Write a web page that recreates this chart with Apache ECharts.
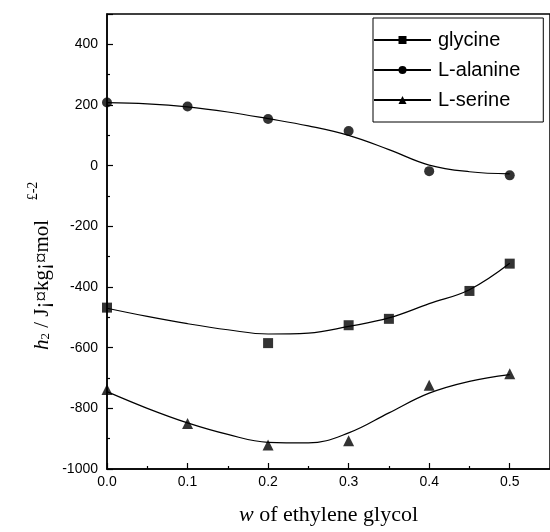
<!DOCTYPE html>
<html>
<head>
<meta charset="utf-8">
<script src="https://cdn.jsdelivr.net/npm/echarts@6/dist/echarts.min.js"></script>
<style>
html, body { margin: 0; padding: 0; background: #fff; }
#chart { width: 550px; height: 532px; }
</style>
</head>
<body>
<div id="chart"></div>
<script>
// measured points
const glycineX = [0, 0.2, 0.3, 0.35, 0.45, 0.5];
const glycineY = [-468, -585, -526, -505, -413, -323];
const alanineX = [0, 0.1, 0.2, 0.3, 0.4, 0.5];
const alanineY = [208, 195, 154, 114, -18, -32];
const serineX = [0, 0.1, 0.2, 0.3, 0.4, 0.5];
const serineY = [-738, -850, -921, -907, -724, -686];

// fitted curves
const fitX = [0, 0.05, 0.1, 0.15, 0.2, 0.25, 0.3, 0.35, 0.4, 0.45, 0.5];
const glycineFit = [-470, -497, -521, -541, -555, -552, -530, -502, -455, -409, -322];
const alanineFit = [208, 204, 194, 177, 155, 131, 100, 53, 2, -20, -27];
const serineFit = [-745, -800, -848, -886, -912, -914, -881, -815, -750, -711, -689];

const names = ['glycine', 'L-alanine', 'L-serine'];

function pairs(xs, ys) {
  return xs.map((x, i) => [x, ys[i]]);
}

const chart = echarts.init(document.getElementById('chart'));

const fitLine = (name, sym, ys) => ({
  name: name,
  type: 'line',
  smooth: 0.4,
  symbol: sym,
  showSymbol: false,
  data: pairs(fitX, ys),
  lineStyle: { color: '#000', width: 1.2 },
  itemStyle: { color: '#000' },
  silent: true,
  z: 2
});

const pts = (name, sym, size, xs, ys) => ({
  name: name,
  type: 'scatter',
  symbol: sym,
  symbolSize: size,
  data: pairs(xs, ys),
  itemStyle: { color: '#000' },
  z: 3
});

const option = {
  animation: false,
  grid: {
    left: 107, right: -2, top: 14, bottom: 63,
    show: true, borderColor: '#000', borderWidth: 1.5
  },
  legend: {
    data: names,
    orient: 'vertical',
    left: 373, top: 18,
    padding: [12, 23, 12, 0],
    itemWidth: 57, itemHeight: 10, itemGap: 10,
    borderColor: '#000', borderWidth: 1,
    backgroundColor: '#fff',
    textStyle: { fontFamily: 'Liberation Sans', fontSize: 20, color: '#000', padding: [0, 0, 0, 2] }
  },
  xAxis: {
    type: 'value', min: 0, max: 0.55, interval: 0.1,
    name: '{i|w} of ethylene glycol',
    nameLocation: 'middle', nameGap: 35,
    nameTextStyle: {
      fontFamily: 'Liberation Serif', fontSize: 22, color: '#000',
      rich: { i: { fontFamily: 'Liberation Serif', fontStyle: 'italic', fontSize: 22, color: '#000' } }
    },
    axisLine: { onZero: false, lineStyle: { color: '#000', width: 1.5 } },
    axisTick: { inside: true, length: 6, lineStyle: { color: '#000', width: 1.2 } },
    minorTick: { show: true, splitNumber: 2, length: 3, lineStyle: { color: '#000', width: 1.2 } },
    axisLabel: {
      showMaxLabel: false, margin: 6,
      fontFamily: 'Liberation Sans', fontSize: 14, color: '#000',
      formatter: v => v.toFixed(1)
    },
    splitLine: { show: false }
  },
  yAxis: {
    type: 'value', min: -1000, max: 500, interval: 200,
    axisLine: { onZero: false, lineStyle: { color: '#000', width: 1.5 } },
    axisTick: { inside: true, length: 6, lineStyle: { color: '#000', width: 1.2 } },
    minorTick: { show: true, splitNumber: 2, length: 3, lineStyle: { color: '#000', width: 1.2 } },
    axisLabel: {
      showMaxLabel: false, margin: 9,
      fontFamily: 'Liberation Sans', fontSize: 14, color: '#000',
      formatter: v => String(v)
    },
    splitLine: { show: false }
  },
  graphic: [{
    type: 'text',
    x: 42, y: 285,
    rotation: Math.PI / 2,
    style: {
      text: '{h|h}{s|2}{t| / J¡¤kg¡¤mol}',
      align: 'center', verticalAlign: 'middle',
      rich: {
        h: { fontFamily: 'Liberation Serif', fontStyle: 'italic', fontSize: 21, fill: '#000' },
        s: { fontFamily: 'Liberation Serif', fontSize: 13, fill: '#000', padding: [8, 0, 0, 0] },
        t: { fontFamily: 'Liberation Serif', fontSize: 21, fill: '#000' }
      }
    }
  }, {
    type: 'text',
    x: 33, y: 191,
    rotation: Math.PI / 2,
    style: {
      text: '£-2',
      align: 'center', verticalAlign: 'middle',
      fontFamily: 'Liberation Serif', fontSize: 14, fill: '#000'
    }
  }],
  series: [
    fitLine('glycine', 'rect', glycineFit),
    fitLine('L-alanine', 'circle', alanineFit),
    fitLine('L-serine', 'triangle', serineFit),
    pts('glycine points', 'rect', 10, glycineX, glycineY),
    pts('L-alanine points', 'circle', 10, alanineX, alanineY),
    pts('L-serine points', 'triangle', 11, serineX, serineY)
  ]
};

chart.setOption(option);
</script>
</body>
</html>
